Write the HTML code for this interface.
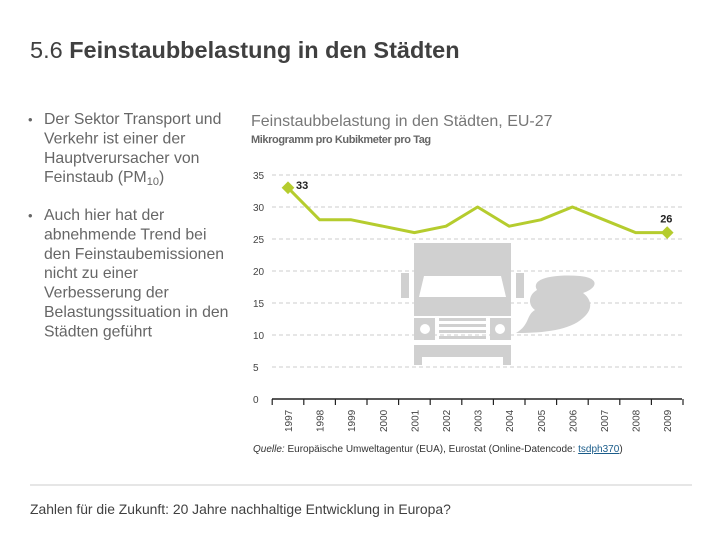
<!DOCTYPE html>
<html><head><meta charset="utf-8"><style>
body{margin:0;width:720px;height:540px;background:#fff;overflow:hidden;font-family:"Liberation Sans",sans-serif;}
svg{display:block}
</style></head><body>
<svg width="720" height="540">
<text x="30" y="58" font-size="23.5" fill="#404040">5.6 <tspan font-weight="bold">Feinstaubbelastung in den Städten</tspan></text>
<g font-size="15.8" fill="#666">
<text x="28" y="124"><tspan font-size="13">•</tspan><tspan x="44">Der Sektor Transport und</tspan><tspan x="44" dy="19.4">Verkehr ist einer der</tspan><tspan x="44" dy="19.4">Hauptverursacher von</tspan><tspan x="44" dy="19.4">Feinstaub (PM</tspan><tspan font-size="11" dy="3">10</tspan><tspan dy="-3">)</tspan></text>
<text x="28" y="220"><tspan font-size="13">•</tspan><tspan x="44">Auch hier hat der</tspan><tspan x="44" dy="19.4">abnehmende Trend bei</tspan><tspan x="44" dy="19.4">den Feinstaubemissionen</tspan><tspan x="44" dy="19.4">nicht zu einer</tspan><tspan x="44" dy="19.4">Verbesserung der</tspan><tspan x="44" dy="19.4">Belastungssituation in den</tspan><tspan x="44" dy="19.4">Städten geführt</tspan></text>
</g>
<text x="251" y="126" font-size="16" fill="#777">Feinstaubbelastung in den Städten, EU-27</text>
<text x="251" y="143" font-size="11" font-weight="bold" fill="#666" letter-spacing="-0.4">Mikrogramm pro Kubikmeter pro Tag</text>
<g id="chart"></g>
<text x="253" y="452" font-size="10" fill="#333"><tspan font-style="italic">Quelle:</tspan> Europäische Umweltagentur (EUA), Eurostat (Online-Datencode: <tspan fill="#1a5c8a" text-decoration="underline">tsdph370</tspan>)</text>
<line x1="30" y1="485" x2="692" y2="485" stroke="#ccc"/>
<text x="30" y="514" font-size="13.9" fill="#404040">Zahlen für die Zukunft: 20 Jahre nachhaltige Entwicklung in Europa?</text>
</svg>
<script>
const years=["1997","1998","1999","2000","2001","2002","2003","2004","2005","2006","2007","2008","2009"];
const values=[33,28,28,27,26,27,30,27,28,30,28,26,26];
const yTicks=[0,5,10,15,20,25,30,35];
const NS="http://www.w3.org/2000/svg";
const g=document.getElementById('chart');
const y0=399,pxu=6.4,x0=288,step=31.6,left=272,right=682;
const Y=v=>y0-v*pxu, X=i=>x0+i*step;
function mk(t,a,p){const e=document.createElementNS(NS,t);for(const k in a)e.setAttribute(k,a[k]);(p||g).appendChild(e);return e;}
yTicks.forEach(v=>{
 if(v>0){const l=mk('line',{x1:left,x2:right,y1:Y(v),y2:Y(v),stroke:'#ccc','stroke-dasharray':'4,3'});
 
 }
 const t=mk('text',{x:253,y:Y(v)+4,'font-size':10,fill:'#444'});t.textContent=v;
 
 
});
const ic=mk('g',{fill:'#d0d0d0'});


[[414,243,97,73],[401,273,8,25],[516,273,8,25],[414,318,21,22],[490,318,21,22],[439,318,47,3],[439,324,47,3],[439,330,47,3],[439,336,47,3],[414,345,97,12],[414,357,8,8],[503,357,8,8]].forEach(r=>mk('rect',{x:r[0],y:r[1],width:r[2],height:r[3]},ic));
mk('path',{d:'M424 276 L501 276 L506 297 L419 297 Z',fill:'#fff'},ic);
mk('circle',{cx:425,cy:329,r:5,fill:'#fff'},ic);
mk('circle',{cx:500,cy:329,r:5,fill:'#fff'},ic);
mk('path',{d:'M516 333 C545 333 570 330 583 318 C595 308 590 298 583 293 C598 288 600 278 580 276 C555 274 530 278 537 290 C528 295 528 305 535 310 C526 315 530 325 516 333 Z'},ic);
const ax=mk('line',{x1:left,x2:right,y1:y0,y2:y0,stroke:'#222','stroke-width':1.5});


for(let i=0;i<=years.length;i++){mk('line',{x1:X(i)-step/2,x2:X(i)-step/2,y1:y0,y2:y0+6,stroke:'#222','stroke-width':1.2});}
years.forEach((yr,i)=>{const t=mk('text',{x:0,y:0,'font-size':10,fill:'#444',transform:`translate(${X(i)+4},432) rotate(-90)`});t.textContent=yr;
 
 });
const pl=mk('polyline',{points:values.map((v,i)=>X(i)+','+Y(v)).join(' '),fill:'none',stroke:'#b5cc2e','stroke-width':3,'stroke-linejoin':'round'});


[0,values.length-1].forEach(i=>{
 const d=mk('rect',{x:X(i)-4.5,y:Y(values[i])-4.5,width:9,height:9,fill:'#b5cc2e',transform:`rotate(45 ${X(i)} ${Y(values[i])})`});
 
 
 const t=mk('text',{x:i?X(i)-7:X(i)+8,y:i?Y(values[i])-10:Y(values[i])+1,'font-size':11,'font-weight':'bold',fill:'#222'});t.textContent=values[i];
 
 
});
</script>
</body></html>
